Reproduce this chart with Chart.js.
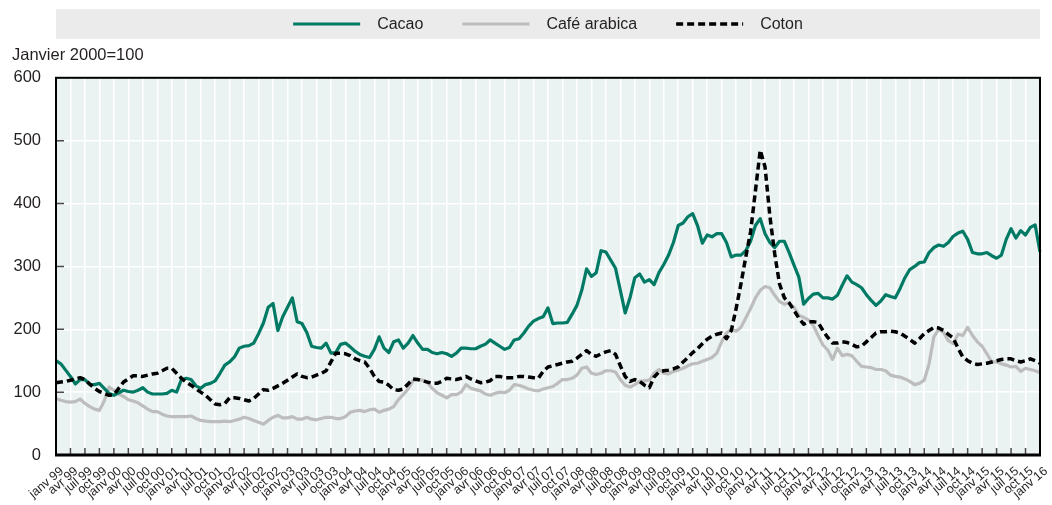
<!DOCTYPE html>
<html>
<head>
<meta charset="utf-8">
<script src="https://cdn.jsdelivr.net/npm/chart.js@4.4.1/dist/chart.umd.min.js"></script>
<style>
  html, body { margin: 0; padding: 0; background: #fff; }
  #wrap { width: 1052px; height: 505px; }
</style>
</head>
<body>
<div id="wrap"><canvas id="chart" width="1052" height="505"></canvas></div>
<script>
/* --------------- Data : monthly, janv 99 -> janv 16 (one row per year) --------------- */
const monthNames = ["janv", "févr", "mars", "avr", "mai", "juin", "juil", "août", "sept", "oct", "nov", "déc"];
const firstYear = 1999;
const lastYear = 2016;

const cacao = [
  150, 145, 135, 125, 113, 120, 120, 112, 112, 114, 106, 98,
  95, 99, 103, 101, 100, 103, 107, 100, 97, 97, 97, 98,
  103, 100, 120, 122, 120, 110, 106, 112, 114, 118, 130, 143,
  148, 156, 170, 173, 174, 178, 193, 210, 235, 241, 198, 220,
  235, 250, 212, 209, 195, 173, 171, 170, 178, 162, 163, 176,
  178, 172, 165, 160, 157, 155, 168, 188, 170, 163, 180, 183,
  170, 178, 190, 178, 168, 168, 163, 161, 163, 161, 157, 162,
  170, 170, 169, 169, 173, 176, 183, 178, 173, 168, 171, 183,
  185, 194, 205, 213, 217, 220, 234, 209, 210, 210, 211, 224,
  238, 262, 296, 284, 290, 325, 323, 310, 297, 262, 226, 250,
  282, 288, 275, 279, 271, 290, 303, 318, 338, 365, 369, 379,
  384, 365, 337, 350, 347, 352, 352, 338, 315, 318, 318, 325,
  340, 365, 376, 352, 338, 330, 340, 340, 322, 302, 283, 240,
  249, 256, 257, 250, 250, 248, 254, 270, 285, 275, 271, 266,
  255, 246, 238, 245, 255, 252, 250, 265, 282, 295, 300, 306,
  307, 322, 330, 334, 332, 338, 348, 353, 356, 343, 322, 320,
  320, 322, 317, 313, 318, 343, 360, 345, 357, 350, 362, 366,
  323
];

const cafeArabica = [
  90, 87, 85, 84, 85, 89, 82, 77, 73, 71, 86, 108,
  103, 97, 93, 88, 86, 83, 78, 73, 69, 69, 65, 62,
  61, 61, 61, 61, 62, 58, 55, 54, 53, 53, 53, 54,
  53, 55, 57, 60, 58, 55, 52, 49, 55, 60, 63, 59,
  59, 61, 57, 57, 60, 57, 56, 58, 60, 60, 58, 58,
  61, 68, 70, 71, 69, 72, 73, 68, 71, 73, 77, 88,
  96, 105, 118, 120, 119, 115, 106, 99, 95, 91, 96, 96,
  100, 112, 106, 104, 102, 97, 95, 98, 100, 99, 103, 112,
  111, 108, 105, 103, 102, 105, 107, 109, 114, 120, 120, 122,
  127, 138, 140, 130, 128, 130, 134, 134, 132, 120, 111, 108,
  112, 117, 118, 119, 130, 136, 130, 129, 133, 135, 138, 142,
  145, 146, 149, 152, 155, 162, 180, 194, 200, 197, 203, 218,
  233, 250, 262, 268, 266, 254, 244, 240, 242, 235, 222, 219,
  215, 206, 190, 175, 167, 152, 170, 158, 160, 158, 149, 141,
  140, 139, 136, 136, 134, 127, 125, 124, 121, 117, 112, 114,
  119, 145, 188, 200, 195, 182, 177, 192, 190, 203, 190, 180,
  173, 161, 148, 148, 145, 143, 140, 141, 133, 138, 136, 134,
  131
];

const coton = [
  115, 116, 117, 119, 121, 123, 120, 113, 106, 101, 98, 95,
  96, 106, 116, 121, 126, 126, 125, 127, 129, 130, 134, 138,
  138, 130, 122, 116, 111, 105, 100, 95, 88, 81, 80, 82,
  91, 91, 90, 88, 86, 90, 97, 104, 103, 106, 110, 114,
  119, 124, 129, 125, 123, 124, 127, 130, 134, 148, 162, 162,
  161, 158, 153, 150, 148, 138, 125, 117, 116, 111, 104, 103,
  105, 113, 121, 120, 118, 116, 114, 114, 117, 122, 121, 120,
  122, 125, 121, 118, 115, 116, 118, 125, 125, 123, 123, 123,
  125, 125, 124, 123, 122, 133, 140, 142, 144, 146, 148, 149,
  154, 160, 166, 160, 157, 161, 164, 166, 160, 142, 125, 117,
  120, 117, 111, 107, 124, 132, 134, 135, 137, 140, 148, 155,
  163, 169, 177, 184, 189, 192, 194, 185, 198, 233, 272, 315,
  355, 420, 485, 458, 380, 320, 272, 250, 242, 230, 218, 208,
  212, 212, 211, 198, 187, 178, 178, 180, 179, 176, 172, 173,
  180, 187, 194, 196, 196, 197, 196, 194, 189, 184, 178, 185,
  193, 198, 203, 202, 198, 192, 186, 170, 156, 150, 146, 144,
  145, 146, 148, 150, 152, 153, 153, 150, 148, 150, 153, 150,
  146
];

const yTicks = [0, 100, 200, 300, 400, 500, 600];

/* --------------- Month labels "janv 99" ... --------------- */
const labels = [];
for (let y = firstYear; y <= lastYear; y++) {
  const yy = String(y % 100).padStart(2, "0");
  for (let m = 0; m < 12; m++) {
    if (y === lastYear && m > 0) break;
    labels.push(monthNames[m] + " " + yy);
  }
}

const FONT = '"Liberation Sans", Arial, sans-serif';
const TEXT = "#231f20";
Chart.defaults.font.family = FONT;
Chart.defaults.color = TEXT;

/* --------------- Plugins --------------- */
// plot background
const plotBg = {
  id: "plotBg",
  beforeDraw(chart) {
    const { ctx, chartArea: a } = chart;
    ctx.save();
    ctx.fillStyle = "#ffffff";
    ctx.fillRect(0, 0, chart.width, chart.height);
    ctx.fillStyle = "#eaf3f2";
    ctx.fillRect(a.left, a.top, a.right - a.left, a.bottom - a.top);
    ctx.restore();
  }
};

// small inner tick marks on the left and bottom edges
const innerTicks = {
  id: "innerTicks",
  beforeDatasetsDraw(chart) {
    const { ctx, chartArea: a, scales } = chart;
    ctx.save();
    ctx.strokeStyle = "#4a4a4a";
    ctx.lineWidth = 1.5;
    ctx.beginPath();
    for (let i = 0; i < labels.length; i += 3) {
      const x = scales.x.getPixelForValue(i);
      ctx.moveTo(x, a.bottom);
      ctx.lineTo(x, a.bottom - 7);
    }
    yTicks.slice(1, -1).forEach(v => {
      const y = scales.y.getPixelForValue(v);
      ctx.moveTo(a.left, y);
      ctx.lineTo(a.left + 8, y);
    });
    ctx.stroke();
    ctx.restore();
  }
};

// black frame round the plot
const frame = {
  id: "frame",
  afterDatasetsDraw(chart) {
    const { ctx, chartArea: a } = chart;
    ctx.save();
    ctx.strokeStyle = "#000";
    ctx.lineWidth = 2;
    ctx.strokeRect(a.left, a.top, a.right - a.left, a.bottom - a.top);
    ctx.lineWidth = 3;
    ctx.beginPath();
    ctx.moveTo(a.left - 1, a.bottom);
    ctx.lineTo(a.right + 1, a.bottom);
    ctx.stroke();
    ctx.restore();
  }
};

// legend on a grey band above the plot
const legendBand = {
  id: "legendBand",
  afterDraw(chart) {
    const { ctx, chartArea: a } = chart;
    const lineW = 67, textGap = 17, itemGap = 39, y = 24;
    ctx.save();
    ctx.fillStyle = "#ebebeb";
    ctx.fillRect(a.left, 9, a.right - a.left, 30);
    ctx.font = "16px " + FONT;
    const items = chart.data.datasets.map(ds => ({ ds, w: lineW + textGap + ctx.measureText(ds.label).width }));
    const total = items.reduce((s, it) => s + it.w, 0) + itemGap * (items.length - 1);
    let x = (a.left + a.right) / 2 - total / 2;
    items.forEach(({ ds, w }) => {
      ctx.beginPath();
      ctx.setLineDash(ds.borderDash || []);
      ctx.lineWidth = ds.borderWidth;
      ctx.strokeStyle = ds.borderColor;
      ctx.moveTo(x, y);
      ctx.lineTo(x + lineW, y);
      ctx.stroke();
      ctx.setLineDash([]);
      ctx.fillStyle = TEXT;
      ctx.textBaseline = "middle";
      ctx.textAlign = "left";
      ctx.fillText(ds.label, x + lineW + textGap, y + 1);
      x += w + itemGap;
    });
    ctx.restore();
  }
};

/* --------------- Chart --------------- */
new Chart(document.getElementById("chart"), {
  type: "line",
  plugins: [plotBg, innerTicks, frame, legendBand],
  data: {
    labels: labels,
    datasets: [
      { label: "Cacao", data: cacao, borderColor: "#007a64", borderWidth: 3.2, order: 1 },
      { label: "Café arabica", data: cafeArabica, borderColor: "#bdbdbd", borderWidth: 3.2, order: 2 },
      { label: "Coton", data: coton, borderColor: "#000000", borderWidth: 3.5, borderDash: [7, 4], order: 0 }
    ]
  },
  options: {
    responsive: false,
    animation: false,
    layout: { padding: { top: 40, left: 12, right: 12, bottom: 0 } },
    elements: {
      point: { radius: 0 },
      line: { tension: 0, borderJoinStyle: "round", fill: false }
    },
    plugins: {
      legend: { display: false },
      tooltip: { enabled: false },
      title: {
        display: true,
        text: "Janvier 2000=100",
        align: "start",
        color: TEXT,
        font: { size: 16.5, weight: "normal" },
        padding: { top: 6, bottom: 12 }
      }
    },
    scales: {
      x: {
        type: "category",
        offset: false,
        border: { display: false },
        grid: {
          drawTicks: false,
          lineWidth: 1.5,
          color: c => (c.tick && c.tick.value % 3 === 0) ? "#ffffff" : "rgba(0,0,0,0)"
        },
        ticks: {
          autoSkip: false,
          minRotation: 40,
          maxRotation: 40,
          padding: 9,
          labelOffset: 6,
          color: TEXT,
          font: { size: 12.5 },
          callback: function (value, index) {
            return value % 3 === 0 ? this.getLabelForValue(value) : null;
          }
        },
        afterFit: s => { s.height = 50; s.paddingRight = 0; }
      },
      y: {
        min: 0,
        max: 600,
        border: { display: false },
        grid: {
          drawTicks: false,
          lineWidth: 1.5,
          color: c => (c.tick && (c.tick.value === 0 || c.tick.value === 600)) ? "rgba(0,0,0,0)" : "#ffffff"
        },
        afterBuildTicks: s => { s.ticks = yTicks.map(v => ({ value: v })); },
        ticks: {
          padding: 15,
          color: TEXT,
          font: { size: 16.5 }
        },
        afterFit: s => { s.width = 44; }
      }
    }
  }
});
</script>
</body>
</html>
